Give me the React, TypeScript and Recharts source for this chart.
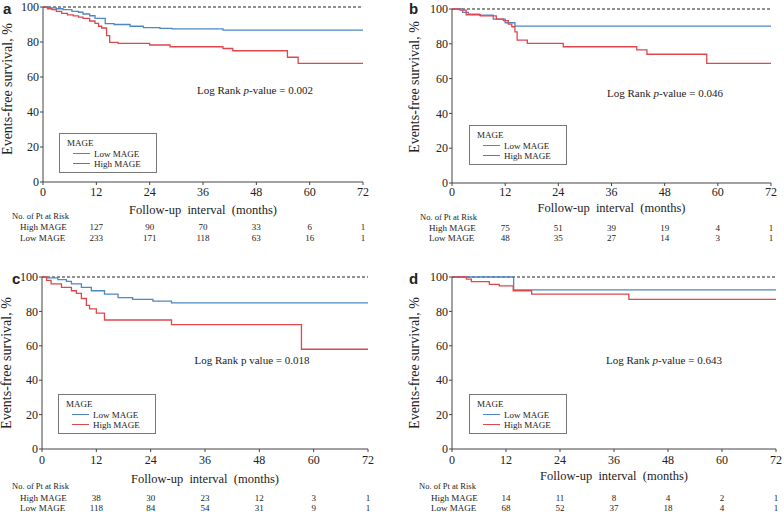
import React from 'react';
import { LineChart, Line, XAxis, YAxis, ReferenceLine } from 'recharts';

const SERIF = '"Liberation Serif", "Times New Roman", serif';
const BLUE = '#4c88c2';
const RED = '#e0474c';

const xTicks = [0, 12, 24, 36, 48, 60, 72];
const yTicks = [0, 20, 40, 60, 80, 100];
const riskMonths = [12, 24, 36, 48, 60, 72];

// panel a
const aLowT = [0, 1.5, 3, 4.5, 6.5, 8, 9, 10.5, 11.7, 14, 16, 19.6, 22.6, 26.3, 29, 40.5, 72];
const aLowS = [100, 99.5, 99, 98.5, 97.5, 97, 96, 95, 93.5, 90.5, 90, 89, 88.2, 87.8, 87.5, 86.8, 86.8];
const aHighT = [0, 1, 2, 3, 4.2, 5.5, 6.8, 8, 9, 10.5, 11.7, 12.5, 13.2, 14.3, 15, 16.9, 24, 28.6, 40.5, 42.7, 55, 57.4, 72];
const aHighS = [100, 99, 98.5, 97.5, 96.4, 95.5, 94.9, 94.2, 93.5, 92, 90.7, 89, 88, 83.6, 79.8, 79.2, 78.3, 77.3, 76.3, 75, 71.3, 67.8, 67.8];
const aHighRisk = [127, 90, 70, 33, 6, 1];
const aLowRisk = [233, 171, 118, 63, 16, 1];

// panel b
const bLowT = [0, 2.4, 3.7, 6.2, 9.3, 12, 14.2, 72];
const bLowS = [100, 98.1, 97.1, 96.5, 94.2, 92.1, 90.2, 90.2];
const bHighT = [0, 1.8, 3.2, 6.4, 10, 11.6, 12.7, 13.5, 14.2, 14.7, 17, 25.1, 41.7, 44, 57.5, 72];
const bHighS = [100, 99.4, 96.7, 96, 94.2, 93.3, 91.3, 89.8, 86.9, 82.1, 80.2, 78.3, 76.5, 74, 68.7, 68.7];
const bHighRisk = [75, 51, 39, 19, 4, 1];
const bLowRisk = [48, 35, 27, 14, 3, 1];

// panel c
const cLowT = [0, 1, 3.5, 5.4, 6.5, 8.7, 10.9, 13.8, 16.8, 20, 24.5, 28.6, 72];
const cLowS = [100, 99.5, 98.5, 97.5, 96, 94, 92, 90, 88, 87, 86, 85, 85];
const cHighT = [0, 1, 2, 4.3, 6.5, 7.6, 8.7, 9.8, 10.5, 12, 13.8, 28.6, 57.3, 72];
const cHighS = [100, 98, 96, 94, 92, 90.5, 87.5, 83.5, 81.5, 79, 75, 72.3, 58, 58];
const cHighRisk = [38, 30, 23, 12, 3, 1];
const cLowRisk = [118, 84, 54, 31, 9, 1];

// panel d
const dLowT = [0, 13.7, 72];
const dLowS = [100, 92.5, 92.5];
const dHighT = [0, 3.2, 4.3, 8.3, 10.5, 13.6, 17.7, 39.3, 72];
const dHighS = [100, 98.8, 97.3, 95.7, 94.8, 92, 90.1, 87, 87];
const dHighRisk = [14, 11, 8, 4, 2, 1];
const dLowRisk = [68, 52, 37, 18, 4, 1];

const toPts = (t: number[], s: number[]) => t.map((v, i) => ({ t: v, s: s[i] }));

const at = (x: number, y: number, anchor: 'start' | 'middle' | 'end' = 'start'): React.CSSProperties => ({
  position: 'absolute',
  left: x,
  top: y,
  whiteSpace: 'pre',
  lineHeight: 1,
  transform: `translate(${anchor === 'start' ? '0' : anchor === 'middle' ? '-50%' : '-100%'}, -50%)`,
});

interface PanelProps {
  letter: string;
  x: number;
  y: number;
  plot: { left: number; right: number; top: number; bottom: number };
  lowT: number[];
  lowS: number[];
  highT: number[];
  highS: number[];
  highRisk: number[];
  lowRisk: number[];
  pText: React.ReactNode;
  pPos: [number, number];
  legendPos: [number, number];
  letterPos: [number, number];
  yLabelPos: [number, number];
  xLabelY: number;
  tickMargin: number;
  riskX: [number, number];
  riskY: [number, number, number];
}

const Panel: React.FC<PanelProps> = (p) => {
  const { plot } = p;
  const w = plot.right - plot.left;
  const xOf = (m: number) => plot.left + (m / 72) * w;
  const low = toPts(p.lowT, p.lowS);
  const high = toPts(p.highT, p.highS);
  const tick = { fontFamily: SERIF, fontSize: 12, fill: '#222' };

  return (
    <div style={{ position: 'absolute', left: p.x, top: p.y, width: 392, height: 256, fontFamily: SERIF, color: '#222' }}>
      <LineChart
        width={392}
        height={plot.bottom + 20}
        margin={{ top: plot.top, right: 392 - plot.right, left: 0, bottom: 0 }}
      >
        <XAxis
          type="number"
          dataKey="t"
          domain={[0, 72]}
          ticks={xTicks}
          interval={0}
          height={20}
          tickSize={3}
          tickMargin={p.tickMargin}
          tick={tick}
          axisLine={{ stroke: '#444' }}
          tickLine={{ stroke: '#444' }}
          allowDuplicatedCategory={false}
        />
        <YAxis
          type="number"
          domain={[0, 100]}
          ticks={yTicks}
          interval={0}
          width={plot.left}
          tickSize={3}
          tickMargin={1}
          tick={tick}
          axisLine={{ stroke: '#444' }}
          tickLine={{ stroke: '#444' }}
        />
        <ReferenceLine y={100} stroke="#222" strokeDasharray="3 2" strokeWidth={1} />
        <Line data={low} dataKey="s" type="stepAfter" stroke={BLUE} strokeWidth={1.3} dot={false} isAnimationActive={false} />
        <Line data={high} dataKey="s" type="stepAfter" stroke={RED} strokeWidth={1.3} dot={false} isAnimationActive={false} />
      </LineChart>

      <div style={{ ...at(p.letterPos[0], p.letterPos[1]), fontFamily: '"Liberation Sans", Arial, sans-serif', fontWeight: 'bold', fontSize: 15 }}>
        {p.letter}
      </div>

      <div
        style={{
          position: 'absolute',
          left: p.yLabelPos[0],
          top: p.yLabelPos[1],
          transform: 'translate(-50%, -50%) rotate(-90deg)',
          whiteSpace: 'nowrap',
          fontSize: 14,
          lineHeight: 1,
        }}
      >
        Events-free survival, %
      </div>

      <div style={{ ...at(plot.left + w / 2, p.xLabelY, 'middle'), fontSize: 12.5 }}>Follow-up  interval  (months)</div>

      <div style={{ ...at(p.pPos[0], p.pPos[1], 'middle'), fontSize: 11 }}>{p.pText}</div>

      <div
        style={{
          position: 'absolute',
          left: p.legendPos[0],
          top: p.legendPos[1],
          width: 96,
          height: 38,
          border: '1px solid #777',
          background: '#fff',
          fontSize: 9,
        }}
      >
        <div style={at(7, 9)}>MAGE</div>
        <div style={{ position: 'absolute', left: 13, top: 19, width: 17, height: 0, borderTop: `1.3px solid ${BLUE}` }} />
        <div style={at(34, 20)}>Low MAGE</div>
        <div style={{ position: 'absolute', left: 13, top: 29, width: 17, height: 0, borderTop: `1.3px solid ${RED}` }} />
        <div style={at(34, 30)}>High MAGE</div>
      </div>

      <div style={{ ...at(p.riskX[0], p.riskY[0]), fontSize: 8.5 }}>No. of Pt at Risk</div>
      <div style={{ ...at(p.riskX[1], p.riskY[1]), fontSize: 9 }}>High MAGE</div>
      <div style={{ ...at(p.riskX[1], p.riskY[2]), fontSize: 9 }}>Low MAGE</div>
      {riskMonths.map((m, i) => (
        <React.Fragment key={m}>
          <div style={{ ...at(xOf(m), p.riskY[1], 'middle'), fontSize: 9 }}>{p.highRisk[i]}</div>
          <div style={{ ...at(xOf(m), p.riskY[2], 'middle'), fontSize: 9 }}>{p.lowRisk[i]}</div>
        </React.Fragment>
      ))}
    </div>
  );
};

const pHyphen = (v: string) => (
  <>
    Log Rank <i>p</i>-value = {v}
  </>
);

export default function App() {
  return (
    <div style={{ position: 'absolute', left: 0, top: 0, width: 784, height: 512, background: '#fff', overflow: 'hidden' }}>
      <Panel
        letter="a"
        x={0}
        y={0}
        plot={{ left: 43, right: 363, top: 7, bottom: 182 }}
        lowT={aLowT}
        lowS={aLowS}
        highT={aHighT}
        highS={aHighS}
        highRisk={aHighRisk}
        lowRisk={aLowRisk}
        pText={pHyphen('0.002')}
        pPos={[255, 90]}
        legendPos={[59, 133]}
        letterPos={[3, 8]}
        yLabelPos={[8, 89]}
        xLabelY={210}
        tickMargin={2}
        riskX={[12, 20]}
        riskY={[216, 227, 238]}
      />
      <Panel
        letter="b"
        x={392}
        y={0}
        plot={{ left: 60, right: 379, top: 9, bottom: 183 }}
        lowT={bLowT}
        lowS={bLowS}
        highT={bHighT}
        highS={bHighS}
        highRisk={bHighRisk}
        lowRisk={bLowRisk}
        pText={pHyphen('0.046')}
        pPos={[273, 93]}
        legendPos={[77, 125]}
        letterPos={[17, 8]}
        yLabelPos={[23, 87]}
        xLabelY={208}
        tickMargin={1}
        riskX={[28, 37]}
        riskY={[217, 228, 238]}
      />
      <Panel
        letter="c"
        x={0}
        y={256}
        plot={{ left: 42, right: 368, top: 21, bottom: 193 }}
        lowT={cLowT}
        lowS={cLowS}
        highT={cHighT}
        highS={cHighS}
        highRisk={cHighRisk}
        lowRisk={cLowRisk}
        pText="Log Rank p value = 0.018"
        pPos={[252, 104]}
        legendPos={[58, 138]}
        letterPos={[12, 22]}
        yLabelPos={[7, 107]}
        xLabelY={223}
        tickMargin={3}
        riskX={[12, 20]}
        riskY={[230, 242, 252]}
      />
      <Panel
        letter="d"
        x={392}
        y={256}
        plot={{ left: 60, right: 384, top: 21, bottom: 193 }}
        lowT={dLowT}
        lowS={dLowS}
        highT={dHighT}
        highS={dHighS}
        highRisk={dHighRisk}
        lowRisk={dLowRisk}
        pText={pHyphen('0.643')}
        pPos={[272, 104]}
        legendPos={[77, 138]}
        letterPos={[17, 22]}
        yLabelPos={[23, 107]}
        xLabelY={220}
        tickMargin={3}
        riskX={[27, 39]}
        riskY={[230, 242, 252]}
      />
    </div>
  );
}
